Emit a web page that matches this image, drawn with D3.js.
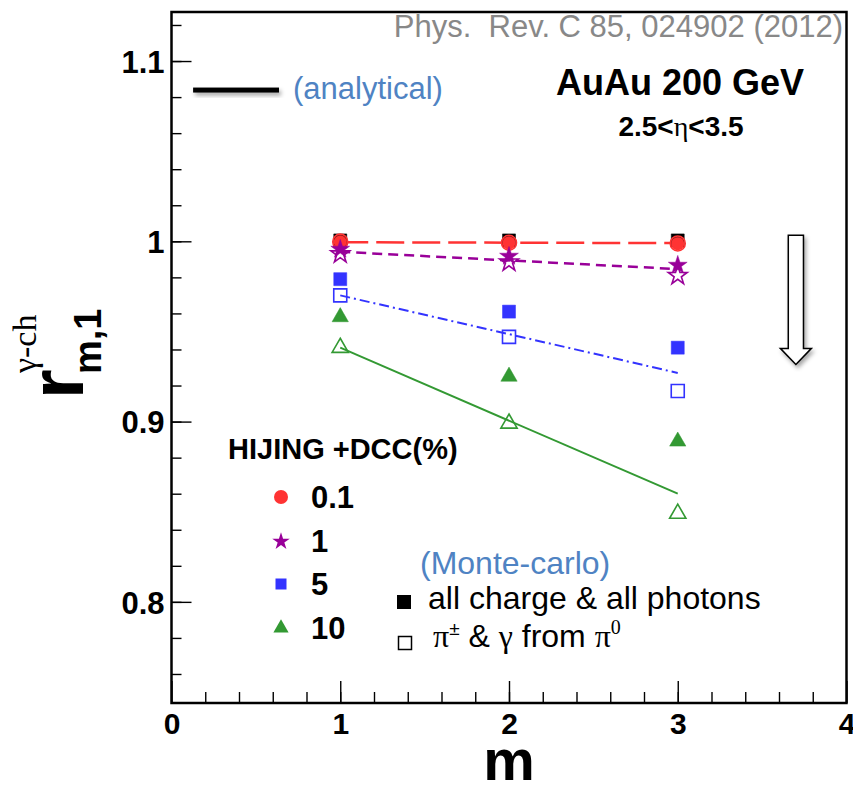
<!DOCTYPE html>
<html>
<head>
<meta charset="utf-8">
<script src="https://cdn.jsdelivr.net/npm/d3@7"></script>
<style>
  body { margin: 0; background: #fff; }
  svg { display: block; }
  text { font-family: "Liberation Sans", Arial, Helvetica, sans-serif; }
</style>
</head>
<body>
<svg id="chart" width="853" height="786"></svg>
<script>
// ---- data -------------------------------------------------------------
const harmonics = [1, 2, 3];                 // m
const dccLabels = ["0.1", "1", "5", "10"];   // HIJING + DCC fraction (%)

// all charge & all photons (filled markers)
const allBlack  = [1.0005, 1.0005, 1.0005];
const all01     = [0.9996, 0.9991, 0.9987];
const all1      = [0.9956, 0.9917, 0.9867];
const all5      = [0.979, 0.961, 0.941];
const all10     = [0.958, 0.925, 0.889];

// pi+- & gamma from pi0 (open markers)
const pi01      = [0.9998, 0.9992, 0.9988];
const pi1       = [0.9930, 0.9885, 0.9810];
const pi5       = [0.970, 0.947, 0.917];
const pi10      = [0.941, 0.899, 0.849];

// analytical expectation lines, evaluated at the end points m = 1 and m = 3
const fitM      = [1, 3];
const fit01     = [0.9995, 0.9990];
const fit1      = [0.9942, 0.9846];
const fit5      = [0.970, 0.927];
const fit10     = [0.941, 0.860];

// axis ticks
const xMajor = [0, 1, 2, 3, 4];
const xLabels = ["0", "1", "2", "3", "4"];
const yMajor = [0.8, 0.9, 1.0, 1.1];
const yLabels = ["0.8", "0.9", "1", "1.1"];

// ---- layout -----------------------------------------------------------
const svg = d3.select("#chart");
const L = 171.5, R = 846.5, T = 12, B = 703;
const x = d3.scaleLinear().domain([0, 4]).range([L, R]);
const y = d3.scaleLinear().domain([0.7439, 1.1272]).range([B, T]);

const colors = { red: "#ff3333", purple: "#990099", blue: "#3333ff", green: "#339933" };
const serif = "Liberation Serif, Times New Roman, serif";

const defs = svg.append("defs");
const shadow = defs.append("filter").attr("id", "shadow")
  .attr("x", "-40%").attr("y", "-100%").attr("width", "180%").attr("height", "300%");
shadow.append("feDropShadow").attr("dx", 2).attr("dy", 3)
  .attr("stdDeviation", 2).attr("flood-color", "#000").attr("flood-opacity", 0.35);

// ---- axes ---------------------------------------------------------------
const yAxis = d3.axisLeft(y).tickValues(yMajor).tickSize(-20).tickPadding(7)
  .tickFormat((d, i) => yLabels[i]);
const yMinor = d3.axisLeft(y).tickValues(d3.range(0.76, 1.121, 0.02)).tickSize(-10).tickFormat("");
const xAxis = d3.axisBottom(x).tickValues(xMajor).tickSize(-22).tickPadding(10)
  .tickFormat((d, i) => xLabels[i]);
const xMinor = d3.axisBottom(x).tickValues(d3.range(0.2, 3.9, 0.2)).tickSize(-11).tickFormat("");

function styleAxis(g) {
  g.select(".domain").remove();
  g.selectAll("line").attr("stroke", "#000").attr("stroke-width", 1.4);
  g.selectAll("text").attr("font-size", 31).attr("font-weight", "bold")
    .attr("fill", "#000").attr("font-family", "Liberation Sans, Arial, sans-serif");
}
svg.append("g").attr("transform", `translate(${L},0)`).call(yMinor).call(styleAxis);
svg.append("g").attr("transform", `translate(${L},0)`).call(yAxis).call(styleAxis)
  .selectAll("text").attr("dy", "0.36em");
svg.append("g").attr("transform", `translate(0,${B})`).call(xMinor).call(styleAxis);
svg.append("g").attr("transform", `translate(0,${B})`).call(xAxis).call(styleAxis)
  .selectAll("text").attr("font-size", 30);

svg.append("rect").attr("x", L).attr("y", T).attr("width", R - L).attr("height", B - T)
  .attr("fill", "none").attr("stroke", "#000").attr("stroke-width", 2.5);

// axis titles
svg.append("text").attr("x", x(2)).attr("y", 780).attr("text-anchor", "middle")
  .attr("font-size", 58).attr("font-weight", "bold").text("m");

const yTitle = svg.append("text").attr("transform", "translate(83,399) rotate(-90)");
yTitle.append("tspan").attr("x", 0).attr("y", 0)
  .attr("font-size", 76).attr("font-weight", "bold").text("r");
yTitle.append("tspan").attr("x", 26).attr("y", -47)
  .attr("font-size", 34).attr("font-family", serif).text("γ-ch");
yTitle.append("tspan").attr("x", 25).attr("y", 18)
  .attr("font-size", 38).attr("font-weight", "bold").text("m,1");

// ---- lines ------------------------------------------------------------
const line = d3.line().x((d, i) => x(fitM[i])).y(d => y(d));
const fits = [
  { v: fit01, c: colors.red,    w: 2.5, dash: "28,8" },
  { v: fit1,  c: colors.purple, w: 2.5, dash: "10,6" },
  { v: fit5,  c: colors.blue,   w: 2,   dash: "10,4,2,4" },
  { v: fit10, c: colors.green,  w: 2,   dash: null }
];
fits.forEach(f => {
  svg.append("path").attr("d", line(f.v)).attr("fill", "none")
    .attr("stroke", f.c).attr("stroke-width", f.w).attr("stroke-dasharray", f.dash);
});

// ---- markers ----------------------------------------------------------
const sym = {
  circle:   d3.symbol().type(d3.symbolCircle).size(Math.PI * 6.5 * 6.5),
  circleO:  d3.symbol().type(d3.symbolCircle).size(Math.PI * 7.5 * 7.5),
  star:     d3.symbol().type(d3.symbolStar).size(110),
  square:   d3.symbol().type(d3.symbolSquare).size(13 * 13),
  triangle: d3.symbol().type(d3.symbolTriangle).size(115)
};

function markers(values, shape, color, open) {
  svg.append("g").selectAll("path").data(values).join("path")
    .attr("transform", (d, i) => `translate(${x(harmonics[i])},${y(d)})`)
    .attr("d", sym[shape]())
    .attr("fill", open ? "none" : color)
    .attr("stroke", color)
    .attr("stroke-width", open ? 1.6 : 0.5);
}

markers(allBlack, "square", "#000", false);
markers(pi01, "circleO", colors.red, true);
markers(all01, "circle", colors.red, false);
markers(pi1, "star", colors.purple, true);
markers(all1, "star", colors.purple, false);
markers(pi5, "square", colors.blue, true);
markers(all5, "square", colors.blue, false);
markers(pi10, "triangle", colors.green, true);
markers(all10, "triangle", colors.green, false);

// ---- annotations ------------------------------------------------------
svg.append("text").attr("x", 843).attr("y", 37).attr("text-anchor", "end")
  .attr("font-size", 31).attr("fill", "#888").style("white-space", "pre")
  .text("Phys.  Rev. C 85, 024902 (2012)");

// analytical legend stroke
svg.append("rect")
  .attr("x", x(0.128)).attr("width", x(0.637) - x(0.128))
  .attr("y", y(1.0839) - 2.5).attr("height", 5)
  .attr("fill", "#000").attr("filter", "url(#shadow)");
svg.append("text").attr("x", 293).attr("y", 99).attr("font-size", 31)
  .attr("fill", "#4f83c3").text("(analytical)");

svg.append("text").attr("x", 680).attr("y", 95).attr("text-anchor", "middle")
  .attr("font-size", 36).attr("font-weight", "bold").text("AuAu 200 GeV");
const eta = svg.append("text").attr("x", 681).attr("y", 136).attr("text-anchor", "middle")
  .attr("font-size", 28).attr("font-weight", "bold");
eta.append("tspan").text("2.5<");
eta.append("tspan").attr("font-weight", "normal").attr("font-family", serif).text("η");
eta.append("tspan").text("<3.5");

// open arrow pointing down
const arrowX = 3.70, aHalf = 0.045, hHalf = 0.092;
const arrowPts = [
  [arrowX - aHalf, 1.0033], [arrowX + aHalf, 1.0033], [arrowX + aHalf, 0.9406],
  [arrowX + hHalf, 0.9406], [arrowX, 0.9317], [arrowX - hHalf, 0.9406],
  [arrowX - aHalf, 0.9406]
];
svg.append("polygon")
  .attr("points", arrowPts.map(p => `${x(p[0])},${y(p[1])}`).join(" "))
  .attr("fill", "#fff").attr("stroke", "#000").attr("stroke-width", 1.5)
  .attr("filter", "url(#shadow)");

// DCC legend
svg.append("text").attr("x", 228).attr("y", 459).attr("font-size", 29)
  .attr("font-weight", "bold").text("HIJING +DCC(%)");
const legShapes = [
  { s: d3.symbol().type(d3.symbolCircle).size(Math.PI * 7 * 7), c: colors.red },
  { s: d3.symbol().type(d3.symbolStar).size(95), c: colors.purple },
  { s: d3.symbol().type(d3.symbolSquare).size(121), c: colors.blue },
  { s: d3.symbol().type(d3.symbolTriangle).size(100), c: colors.green }
];
const legY = [497, 541.5, 584, 628];
dccLabels.forEach((lab, i) => {
  svg.append("path").attr("transform", `translate(281,${legY[i]})`)
    .attr("d", legShapes[i].s()).attr("fill", legShapes[i].c);
  svg.append("text").attr("x", 311).attr("y", legY[i] + 10.5).attr("font-size", 31)
    .attr("font-weight", "bold").text(lab);
});

// Monte-carlo legend
svg.append("text").attr("x", 420).attr("y", 574).attr("font-size", 32)
  .attr("fill", "#4f83c3").text("(Monte-carlo)");
svg.append("rect").attr("x", 397).attr("y", 595).attr("width", 14).attr("height", 14).attr("fill", "#000");
svg.append("text").attr("x", 428).attr("y", 609).attr("font-size", 32).text("all charge & all photons");
svg.append("rect").attr("x", 398.5).attr("y", 636.5).attr("width", 13).attr("height", 13)
  .attr("fill", "none").attr("stroke", "#000").attr("stroke-width", 1.5);
const pg = svg.append("text").attr("x", 433).attr("y", 647).attr("font-size", 32);
pg.append("tspan").attr("font-family", serif).text("π");
pg.append("tspan").attr("font-size", 19).attr("dy", -12).text("±");
pg.append("tspan").attr("dy", 12).style("white-space", "pre").text(" & ");
pg.append("tspan").attr("font-family", serif).text("γ");
pg.append("tspan").style("white-space", "pre").text(" from ");
pg.append("tspan").attr("font-family", serif).text("π");
pg.append("tspan").attr("font-family", serif).attr("font-size", 20).attr("dy", -13).text("0");
</script>
</body>
</html>
